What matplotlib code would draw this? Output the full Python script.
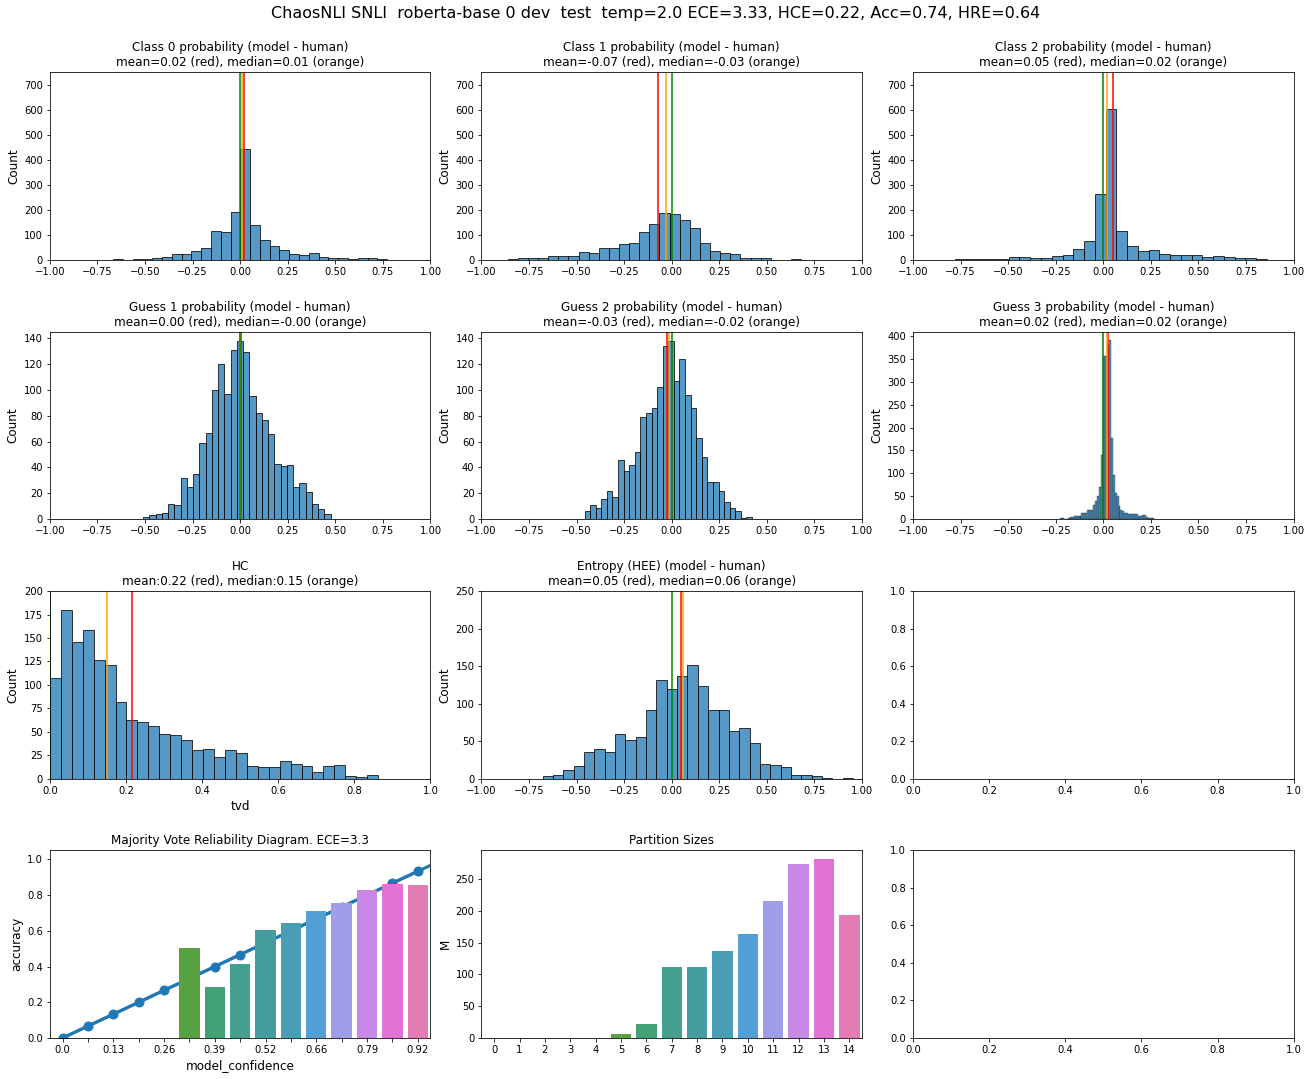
import numpy as np
import matplotlib
matplotlib.use("Agg")
import matplotlib.pyplot as plt
import seaborn as sns

suptitle = "ChaosNLI SNLI  roberta-base 0 dev  test  temp=2.0 ECE=3.33, HCE=0.22, Acc=0.74, HRE=0.64"

# histogram counts and the data range the bins cover
class0_counts = [3, 0, 2, 3, 6, 11, 22, 22, 35, 47, 115, 111, 191, 443, 139,
                 79, 55, 39, 23, 19, 27, 11, 7, 7, 3, 7, 7, 3]
class0_range = (-0.667, 0.772)
class1_counts = [3, 7, 7, 7, 15, 15, 15, 31, 27, 47, 47, 63, 67, 111, 143,
                 187, 183, 159, 127, 67, 35, 27, 23, 6, 6, 6, 0, 0, 3]
class1_range = (-0.862, 0.680)
class2_counts = [2, 2, 2, 2, 3, 11, 11, 7, 7, 15, 19, 43, 75, 263, 603,
                 115, 55, 35, 39, 23, 19, 19, 19, 11, 15, 11, 7, 7, 3]
class2_range = (-0.78, 0.86)
guess1_counts = [2, 3, 4, 5, 12, 11, 32, 25, 35, 59, 67, 100, 120, 97, 131,
                 138, 129, 95, 82, 77, 66, 43, 41, 42, 25, 28, 21, 12, 8, 4]
guess1_range = (-0.51, 0.475)
guess2_counts = [6, 11, 9, 16, 22, 17, 46, 37, 42, 52, 79, 82, 86, 102, 134,
                 138, 107, 124, 96, 86, 63, 48, 29, 29, 22, 13, 9, 6, 1, 2]
guess2_range = (-0.458, 0.422)
guess3_counts = [3, 2, 1, 1, 2, 4, 5, 7, 7, 7, 8, 13, 13, 14, 20, 20, 21, 30,
                 40, 50, 70, 139, 356, 356, 380, 390, 177, 97, 57, 50, 29, 20,
                 18, 13, 13, 11, 11, 11, 11, 11, 7, 7, 10, 10, 5, 3, 3, 2]
guess3_range = (-0.2275, 0.264)
hc_counts = [107, 180, 146, 158, 127, 121, 82, 62, 60, 56, 48, 46, 41, 31, 32,
             23, 31, 27, 13, 12, 12, 19, 16, 13, 7, 13, 14, 3, 2, 4]
hc_range = (0.0, 0.8626)
entropy_counts = [3, 5, 11, 17, 36, 40, 36, 59, 51, 56, 92, 132, 120, 137, 152,
                  124, 92, 92, 64, 67, 48, 20, 18, 15, 5, 5, 3, 1, 0, 1]
entropy_range = (-0.679, 0.953)

hist_titles = ["Class 0 probability (model - human)",
               "Class 1 probability (model - human)",
               "Class 2 probability (model - human)",
               "Guess 1 probability (model - human)",
               "Guess 2 probability (model - human)",
               "Guess 3 probability (model - human)",
               "HC",
               "Entropy (HEE) (model - human)"]
hist_means = [0.018, -0.070, 0.050, 0.003, -0.026, 0.024, 0.216, 0.049]
hist_medians = [0.008, -0.032, 0.021, -0.003, -0.016, 0.019, 0.150, 0.060]
hist_ylims = [750, 750, 750, 145, 145, 409, 200, 250]

# reliability diagram
conf_labels = ["0.0", "", "0.13", "", "0.26", "", "0.39", "", "0.52", "",
               "0.66", "", "0.79", "", "0.92"]
conf_values = [0.0, 0.067, 0.133, 0.2, 0.267, 0.333, 0.4, 0.467, 0.533, 0.6,
               0.667, 0.733, 0.8, 0.867, 0.933]
bin_accuracy = [0, 0, 0, 0, 0, 0.505, 0.287, 0.415, 0.605, 0.642, 0.711,
                0.757, 0.829, 0.862, 0.857]

# partition sizes
partition_labels = [str(i) for i in range(15)]
partition_sizes = [0, 0, 0, 0, 0, 6, 22, 111, 111, 137, 164, 215, 273, 281, 193]

hist_data = [(class0_counts, class0_range), (class1_counts, class1_range),
             (class2_counts, class2_range), (guess1_counts, guess1_range),
             (guess2_counts, guess2_range), (guess3_counts, guess3_range),
             (hc_counts, hc_range), (entropy_counts, entropy_range)]

plt.rcParams['font.size'] = 10
fig, axes = plt.subplots(4, 3, figsize=(1312 / 72, 1079 / 72), dpi=72)
fig.subplots_adjust(left=0.038, right=0.986, top=0.933, bottom=0.038,
                    wspace=0.134, hspace=0.383)
fig.suptitle(suptitle, fontsize=16, y=0.994)

for i, (counts, rng) in enumerate(hist_data):
    ax = axes.flat[i]
    edges = np.linspace(rng[0], rng[1], len(counts) + 1)
    lw = 0.4 if len(counts) > 40 else 1.0
    ax.bar(edges[:-1], counts, width=np.diff(edges), align='edge',
           color='#1f77b4', alpha=0.75, edgecolor='black', linewidth=lw)
    ax.axvline(hist_means[i], color='red', alpha=0.75, linewidth=2)
    ax.axvline(hist_medians[i], color='orange', alpha=0.75, linewidth=2)
    ax.axvline(0, color='green', alpha=0.75, linewidth=2)
    if hist_titles[i] == "HC":
        sub = "mean:{:.2f} (red), median:{:.2f} (orange)"
        ax.set_xlim(0, 1)
        ax.set_xlabel("tvd", fontsize=12)
    else:
        sub = "mean={:.2f} (red), median={:.2f} (orange)"
        ax.set_xlim(-1, 1)
    ax.set_title(hist_titles[i] + "\n" + sub.format(hist_means[i], hist_medians[i]),
                 fontsize=12)
    ax.set_ylim(0, hist_ylims[i])
    ax.set_ylabel("Count", fontsize=12)

bar_colors = [sns.desaturate(c, 0.75) for c in sns.color_palette("husl", 15)]
pos = np.arange(len(conf_values))

# reliability diagram
ax = axes[3, 0]
ax.plot(pos, conf_values, color='#1f77b4', marker='o', markersize=9,
        linewidth=3, zorder=1)
ax.axline((pos[0], conf_values[0]), (pos[-1], conf_values[-1]),
          color='#1f77b4', linewidth=3, zorder=1)
ax.bar(pos, bin_accuracy, width=0.8, color=bar_colors, zorder=2)
ax.set_xticks(pos)
ax.set_xticklabels(conf_labels)
ax.set_xlim(-0.5, 14.5)
ax.set_ylim(0, 1.05)
ax.set_xlabel("model_confidence", fontsize=12)
ax.set_ylabel("accuracy", fontsize=12)
ax.set_title("Majority Vote Reliability Diagram. ECE=3.3", fontsize=12)

# partition sizes
ax = axes[3, 1]
ax.bar(pos, partition_sizes, width=0.8, color=bar_colors)
ax.set_xticks(pos)
ax.set_xticklabels(partition_labels)
ax.set_xlim(-0.5, 14.5)
ax.set_ylabel("M", fontsize=12)
ax.set_title("Partition Sizes", fontsize=12)

fig.savefig("out.png", dpi=72)
